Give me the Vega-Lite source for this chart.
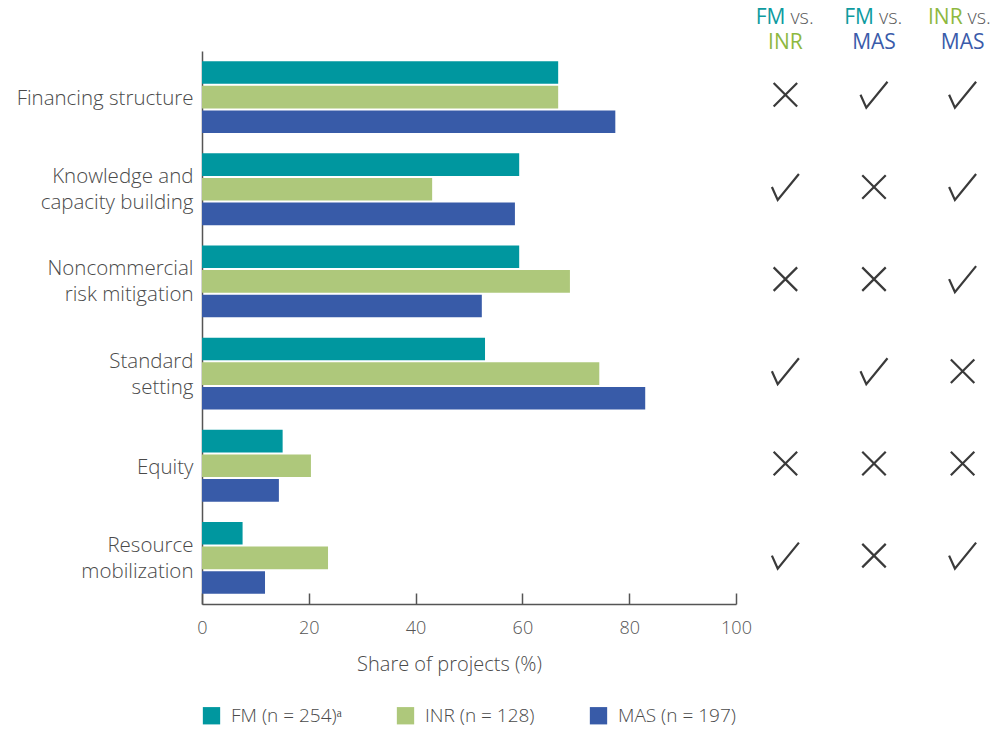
{
  "$schema": "https://vega.github.io/schema/vega-lite/v6.json",
  "padding": {"left": 5, "right": 0, "top": 0, "bottom": 5},
  "config": {"view": {"stroke": null, "fill": "transparent"}, "font": "Open Sans"},
  "datasets": {
    "bars": [
      {"category": "Financing structure", "series": "FM", "share": 66.7},
      {"category": "Financing structure", "series": "INR", "share": 66.7},
      {"category": "Financing structure", "series": "MAS", "share": 77.4},
      {"category": "Knowledge and capacity building", "series": "FM", "share": 59.4},
      {"category": "Knowledge and capacity building", "series": "INR", "share": 43.1},
      {"category": "Knowledge and capacity building", "series": "MAS", "share": 58.6},
      {"category": "Noncommercial risk mitigation", "series": "FM", "share": 59.4},
      {"category": "Noncommercial risk mitigation", "series": "INR", "share": 68.9},
      {"category": "Noncommercial risk mitigation", "series": "MAS", "share": 52.4},
      {"category": "Standard setting", "series": "FM", "share": 53.0},
      {"category": "Standard setting", "series": "INR", "share": 74.4},
      {"category": "Standard setting", "series": "MAS", "share": 83.0},
      {"category": "Equity", "series": "FM", "share": 15.1},
      {"category": "Equity", "series": "INR", "share": 20.4},
      {"category": "Equity", "series": "MAS", "share": 14.4},
      {"category": "Resource mobilization", "series": "FM", "share": 7.6},
      {"category": "Resource mobilization", "series": "INR", "share": 23.6},
      {"category": "Resource mobilization", "series": "MAS", "share": 11.8}
    ],
    "tests": [
      {"category": "Financing structure", "comparison": "FM vs. INR", "significant": "no"},
      {"category": "Financing structure", "comparison": "FM vs. MAS", "significant": "yes"},
      {"category": "Financing structure", "comparison": "INR vs. MAS", "significant": "yes"},
      {"category": "Knowledge and capacity building", "comparison": "FM vs. INR", "significant": "yes"},
      {"category": "Knowledge and capacity building", "comparison": "FM vs. MAS", "significant": "no"},
      {"category": "Knowledge and capacity building", "comparison": "INR vs. MAS", "significant": "yes"},
      {"category": "Noncommercial risk mitigation", "comparison": "FM vs. INR", "significant": "no"},
      {"category": "Noncommercial risk mitigation", "comparison": "FM vs. MAS", "significant": "no"},
      {"category": "Noncommercial risk mitigation", "comparison": "INR vs. MAS", "significant": "yes"},
      {"category": "Standard setting", "comparison": "FM vs. INR", "significant": "yes"},
      {"category": "Standard setting", "comparison": "FM vs. MAS", "significant": "yes"},
      {"category": "Standard setting", "comparison": "INR vs. MAS", "significant": "no"},
      {"category": "Equity", "comparison": "FM vs. INR", "significant": "no"},
      {"category": "Equity", "comparison": "FM vs. MAS", "significant": "no"},
      {"category": "Equity", "comparison": "INR vs. MAS", "significant": "no"},
      {"category": "Resource mobilization", "comparison": "FM vs. INR", "significant": "yes"},
      {"category": "Resource mobilization", "comparison": "FM vs. MAS", "significant": "no"},
      {"category": "Resource mobilization", "comparison": "INR vs. MAS", "significant": "yes"}
    ],
    "headers": [
      {"comparison": "FM vs. INR", "line": "1", "part": "a", "text": "FM", "group": "FM"},
      {"comparison": "FM vs. INR", "line": "1", "part": "b", "text": "vs.", "group": "vs"},
      {"comparison": "FM vs. INR", "line": "2", "part": "c", "text": "INR", "group": "INR"},
      {"comparison": "FM vs. MAS", "line": "1", "part": "a", "text": "FM", "group": "FM"},
      {"comparison": "FM vs. MAS", "line": "1", "part": "b", "text": "vs.", "group": "vs"},
      {"comparison": "FM vs. MAS", "line": "2", "part": "c", "text": "MAS", "group": "MAS"},
      {"comparison": "INR vs. MAS", "line": "1", "part": "a", "text": "INR", "group": "INR"},
      {"comparison": "INR vs. MAS", "line": "1", "part": "b", "text": "vs.", "group": "vs"},
      {"comparison": "INR vs. MAS", "line": "2", "part": "c", "text": "MAS", "group": "MAS"}
    ]
  },
  "columns": 2,
  "spacing": 0,
  "resolve": {"scale": {"x": "independent", "y": "independent", "color": "independent", "shape": "independent"}, "legend": {"color": "independent"}},
  "concat": [
    {
      "width": 10,
      "height": 10,
      "data": {"values": [{"t": ""}]},
      "mark": {"type": "text"},
      "encoding": {"text": {"field": "t"}}
    },
    {
      "width": 244,
      "height": 50,
      "data": {"name": "headers"},
      "encoding": {
        "x": {"field": "comparison", "type": "nominal", "sort": ["FM vs. INR", "FM vs. MAS", "INR vs. MAS"], "scale": {"type": "point", "padding": 0.377}, "axis": null},
        "y": {"field": "line", "type": "ordinal", "scale": {"type": "point", "domain": ["1", "2"], "padding": 0.5, "align": 0.68}, "axis": null},
        "text": {"field": "text"},
        "color": {"field": "group", "type": "nominal", "scale": {"domain": ["FM", "INR", "MAS", "vs"], "range": ["#0E9BA0", "#8DB83F", "#3A5BAA", "#5a5a5a"]}, "legend": null}
      },
      "layer": [
        {"transform": [{"filter": "datum.part == 'a'"}], "mark": {"type": "text", "align": "right", "baseline": "middle", "fontSize": 21, "fontWeight": 500, "clip": true}},
        {"transform": [{"filter": "datum.part == 'b'"}], "mark": {"type": "text", "align": "left", "baseline": "middle", "dx": 5, "fontSize": 20, "fontWeight": 300, "clip": true}},
        {"transform": [{"filter": "datum.part == 'c'"}], "mark": {"type": "text", "align": "center", "baseline": "middle", "fontSize": 21, "fontWeight": 500, "clip": true}}
      ]
    },
    {
      "width": 534,
      "height": 553,
      "data": {"name": "bars"},
      "mark": {"type": "bar"},
      "encoding": {
        "y": {
          "field": "category", "type": "nominal",
          "sort": ["Financing structure", "Knowledge and capacity building", "Noncommercial risk mitigation", "Standard setting", "Equity", "Resource mobilization"],
          "scale": {"paddingInner": 0.22, "paddingOuter": 0.11},
          "axis": {
            "title": null, "domainColor": "#555555", "domainWidth": 1.5, "ticks": false,
            "labelPadding": 9, "labelFontSize": 20.5, "labelColor": "#4a4a4a", "labelFontWeight": 300,
            "labelLineHeight": 26, "labelLimit": 260, "minExtent": 197, "maxExtent": 197,
            "labelOffset": {"condition": {"test": "datum.value == 'Financing structure' || datum.value == 'Equity'", "value": 2}, "value": -12},
            "labelExpr": "datum.value == 'Knowledge and capacity building' ? ['Knowledge and', 'capacity building'] : datum.value == 'Noncommercial risk mitigation' ? ['Noncommercial', 'risk mitigation'] : datum.value == 'Standard setting' ? ['Standard', 'setting'] : datum.value == 'Resource mobilization' ? ['Resource', 'mobilization'] : datum.value"
          }
        },
        "yOffset": {"field": "series", "type": "nominal", "sort": ["FM", "INR", "MAS"], "scale": {"paddingInner": 0.08, "paddingOuter": 0}},
        "x": {
          "field": "share", "type": "quantitative",
          "scale": {"domain": [0, 100]},
          "axis": {
            "title": "Share of projects (%)", "values": [0, 20, 40, 60, 80, 100], "grid": false,
            "domainColor": "#555555", "domainWidth": 1.5, "tickColor": "#555555", "tickWidth": 1.5, "tickSize": -11,
            "labelPadding": 26, "labelFontSize": 18, "labelColor": "#555555", "labelFontWeight": 300, "labelFlush": false,
            "titleFontSize": 20, "titleFontWeight": 300, "titleColor": "#4a4a4a", "titlePadding": 17, "titleX": 247
          }
        },
        "color": {
          "field": "series", "type": "nominal",
          "scale": {"domain": ["FM", "INR", "MAS"], "range": ["#00979F", "#AEC87B", "#385BA8"]},
          "legend": {
            "orient": "bottom", "direction": "horizontal", "title": null, "symbolType": "square", "symbolSize": 300,
            "symbolStrokeWidth": 0, "labelFontSize": 19, "labelColor": "#4a4a4a", "labelFontWeight": 300,
            "columnPadding": 54, "labelOffset": 10, "offset": 32,
            "labelExpr": "datum.value == 'FM' ? 'FM (n = 254)ᵃ' : datum.value == 'INR' ? 'INR (n = 128)' : 'MAS (n = 197)'"
          }
        }
      }
    },
    {
      "width": 244,
      "height": 553,
      "data": {"name": "tests"},
      "mark": {"type": "point", "filled": false, "size": 729, "strokeWidth": 2.2, "stroke": "#3a3a3a", "opacity": 1},
      "encoding": {
        "x": {"field": "comparison", "type": "nominal", "sort": ["FM vs. INR", "FM vs. MAS", "INR vs. MAS"], "scale": {"type": "point", "padding": 0.377}, "axis": null},
        "y": {
          "field": "category", "type": "nominal",
          "sort": ["Financing structure", "Knowledge and capacity building", "Noncommercial risk mitigation", "Standard setting", "Equity", "Resource mobilization"],
          "scale": {"paddingInner": 0.22, "paddingOuter": 0.11, "align": 0.475},
          "axis": {"title": null, "domain": true, "domainOpacity": 0, "domainWidth": 0.5, "labels": false, "ticks": false, "grid": false}
        },
        "shape": {
          "field": "significant", "type": "nominal",
          "scale": {"domain": ["yes", "no"], "range": ["M-1,0L-0.57,0.96L1,-0.96", "M-0.87,-0.87L0.87,0.87M-0.87,0.87L0.87,-0.87"]},
          "legend": null
        }
      }
    }
  ]
}
